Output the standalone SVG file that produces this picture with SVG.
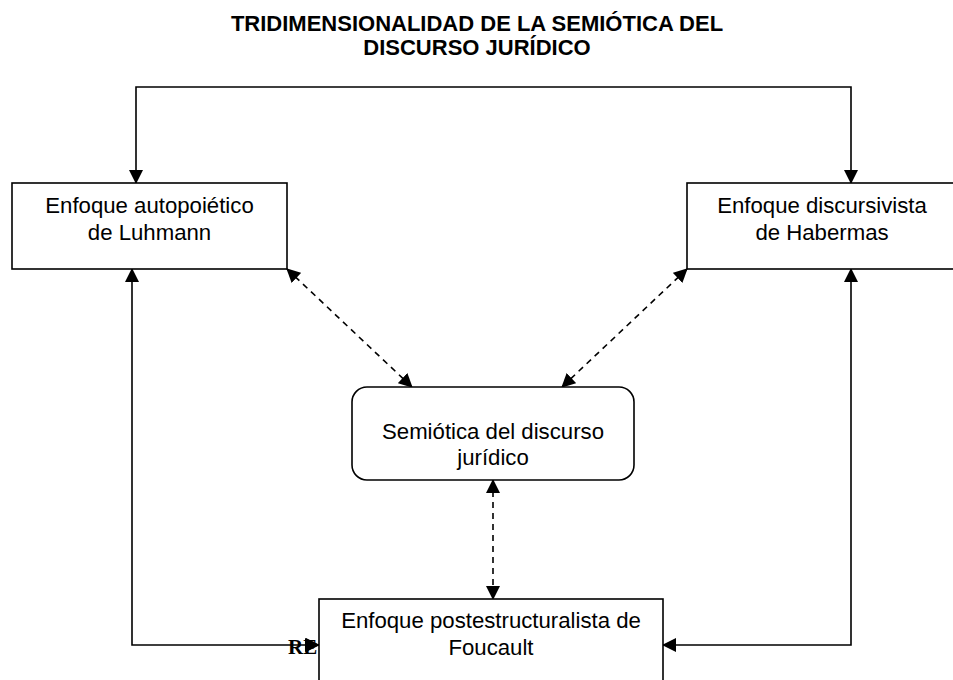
<svg xmlns="http://www.w3.org/2000/svg" width="953" height="680" viewBox="0 0 953 680">
<style>
.box{fill:#fff;stroke:#000;stroke-width:1.6}
.t{font-family:"Liberation Sans",Arial,sans-serif;font-size:22.2px;fill:#000;text-anchor:middle}
.title{font-family:"Liberation Sans",Arial,sans-serif;font-size:22px;font-weight:bold;fill:#000;text-anchor:middle}
.c{fill:none;stroke:#000;stroke-width:1.6}
.d{fill:none;stroke:#000;stroke-width:1.6;stroke-dasharray:6,5}
</style>
<defs>
<marker id="a" markerWidth="14" markerHeight="14" refX="13" refY="7" orient="auto" markerUnits="userSpaceOnUse">
<path d="M0,0 L14,7 L0,14 Z" fill="#000"/>
</marker>
<marker id="as" markerWidth="14" markerHeight="14" refX="13" refY="7" orient="auto-start-reverse" markerUnits="userSpaceOnUse">
<path d="M0,0 L14,7 L0,14 Z" fill="#000"/>
</marker>
</defs>
<rect width="953" height="680" fill="#fff"/>
<g id="title">
<text class="title" x="477" y="31">TRIDIMENSIONALIDAD DE LA SEMIÓTICA DEL</text>
<text class="title" x="477" y="55">DISCURSO JURÍDICO</text>
</g>
<g id="connectors">
<path class="c" d="M136,183 L136,87 L851,87 L851,183" marker-start="url(#as)" marker-end="url(#a)"/>
<path class="c" d="M132,269 L132,645 L319,645" marker-start="url(#as)" marker-end="url(#a)"/>
<path class="c" d="M851,269 L851,645 L663,645" marker-start="url(#as)" marker-end="url(#a)"/>
<path class="d" d="M287,269 L412,387" marker-start="url(#as)" marker-end="url(#a)"/>
<path class="d" d="M687,269 L562,387" marker-start="url(#as)" marker-end="url(#a)"/>
<path class="d" d="M493,480 L493,599" marker-start="url(#as)" marker-end="url(#a)"/>
</g>
<g id="luhmann">
<rect class="box" x="12" y="183" width="275" height="86"/>
<text class="t" x="149.5" y="213">Enfoque autopoiético</text>
<text class="t" x="149.5" y="240">de Luhmann</text>
</g>
<g id="habermas">
<rect class="box" x="687" y="183" width="272" height="86"/>
<text class="t" x="822" y="213">Enfoque discursivista</text>
<text class="t" x="822" y="240">de Habermas</text>
</g>
<g id="semiotica">
<rect class="box" x="352" y="387" width="282" height="93" rx="15" ry="15"/>
<text class="t" x="493" y="439">Semiótica del discurso</text>
<text class="t" x="493" y="465">jurídico</text>
</g>
<g id="foucault">
<rect class="box" x="319" y="599" width="344" height="90"/>
<text class="t" x="491" y="628">Enfoque postestructuralista de</text>
<text class="t" x="491" y="655">Foucault</text>
</g>
<text x="288" y="654" font-family="'Liberation Serif','Times New Roman',serif" font-weight="bold" font-size="21" fill="#000">RE</text>
<path d="M305,638 L319,645 L305,652 Z" fill="#000"/>
</svg>
